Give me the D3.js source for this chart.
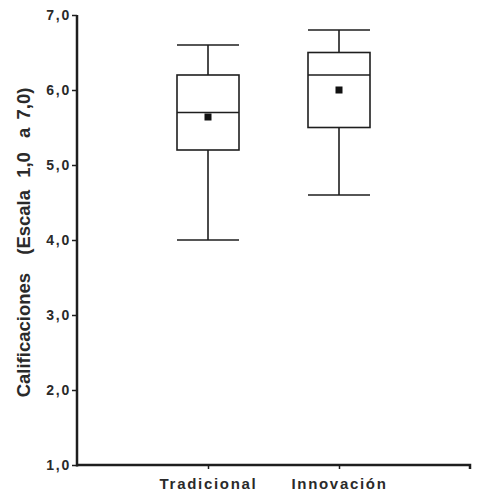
<!DOCTYPE html>
<html><head><meta charset="utf-8">
<script src="https://cdn.jsdelivr.net/npm/d3@7"></script>
<style>
html,body{margin:0;padding:0;background:#fff;}
svg text{font-family:"Liberation Sans",Arial,sans-serif;fill:#2a2a2a;}
</style></head>
<body><svg id="c" width="478" height="494"></svg>
<script>
const categories = ["Tradicional", "Innovación"];
const minVals    = [4.0, 4.6];
const q1Vals     = [5.2, 5.5];
const medianVals = [5.7, 6.2];
const q3Vals     = [6.2, 6.5];
const maxVals    = [6.6, 6.8];
const meanVals   = [5.64, 6.0];
const yTicks     = [1, 2, 3, 4, 5, 6, 7];
const yTitleWords = ["Calificaciones", "(Escala", "1,0", "a", "7,0)"];

const svg = d3.select("#c");
const mL = 77, mR = 470, mT = 15, mB = 465;
const x = d3.scalePoint().domain(categories).range([mL, mR]).padding(1);
const y = d3.scaleLinear().domain([1, 7]).range([mB, mT]);
const fmt = d => d.toFixed(1).replace(".", ",");
const boxW = 62;
const stroke = "#1e1e1e";

// y axis
const yAxis = svg.append("g").attr("transform", `translate(${mL},0)`)
  .call(d3.axisLeft(y).tickValues(yTicks).tickFormat(fmt).tickSize(5).tickPadding(1));
yAxis.select(".domain").attr("stroke", stroke).attr("stroke-width", 2.5).attr("d", `M0,${mT}V${mB+1.5}`);
yAxis.selectAll(".tick line").attr("stroke", stroke).attr("stroke-width", 1.5);
yAxis.selectAll(".tick text").attr("font-size", 14).attr("font-weight", "bold")
  .attr("letter-spacing", 1.8).attr("fill", "#2a2a2a").attr("dy", "0.35em");

// x axis
const xAxis = svg.append("g").attr("transform", `translate(0,${mB})`)
  .call(d3.axisBottom(x).tickSize(4).tickPadding(9));
xAxis.select(".domain").attr("stroke", stroke).attr("stroke-width", 2.5).attr("d", `M${mL},0H${mR}V4`);
xAxis.selectAll(".tick line").attr("stroke", stroke).attr("stroke-width", 1.5);
xAxis.selectAll(".tick text").attr("font-size", 15).attr("font-weight", "bold")
  .attr("letter-spacing", 1.7).attr("fill", "#2a2a2a");

// y title
const gaps = [0, 13, 7, 9, 3];
const t = svg.append("text")
  .attr("transform", `translate(30,242.5) rotate(-90)`)
  .attr("text-anchor", "middle")
  .attr("font-size", 18.5).attr("font-weight", "bold");
yTitleWords.forEach((w, i) => {
  t.append("tspan").attr("dx", gaps[i]).text((i ? " " : "") + w);
});

// boxes
const data = categories.map((c, i) => ({c, min: minVals[i], q1: q1Vals[i], med: medianVals[i], q3: q3Vals[i], max: maxVals[i], mean: meanVals[i]}));
const g = svg.append("g").attr("stroke", stroke).attr("stroke-width", 1.6).attr("fill", "none");
data.forEach(d => {
  const cx = x(d.c);
  g.append("line").attr("x1", cx).attr("x2", cx).attr("y1", y(d.max)).attr("y2", y(d.q3));
  g.append("line").attr("x1", cx).attr("x2", cx).attr("y1", y(d.q1)).attr("y2", y(d.min));
  g.append("line").attr("x1", cx - boxW/2).attr("x2", cx + boxW/2).attr("y1", y(d.max)).attr("y2", y(d.max));
  g.append("line").attr("x1", cx - boxW/2).attr("x2", cx + boxW/2).attr("y1", y(d.min)).attr("y2", y(d.min));
  g.append("rect").attr("x", cx - boxW/2).attr("y", y(d.q3)).attr("width", boxW).attr("height", y(d.q1) - y(d.q3));
  g.append("line").attr("x1", cx - boxW/2).attr("x2", cx + boxW/2).attr("y1", y(d.med)).attr("y2", y(d.med));
  svg.append("rect").attr("x", cx - 3.5).attr("y", y(d.mean) - 3.5).attr("width", 7).attr("height", 7).attr("fill", "#111");
});
</script></body></html>
